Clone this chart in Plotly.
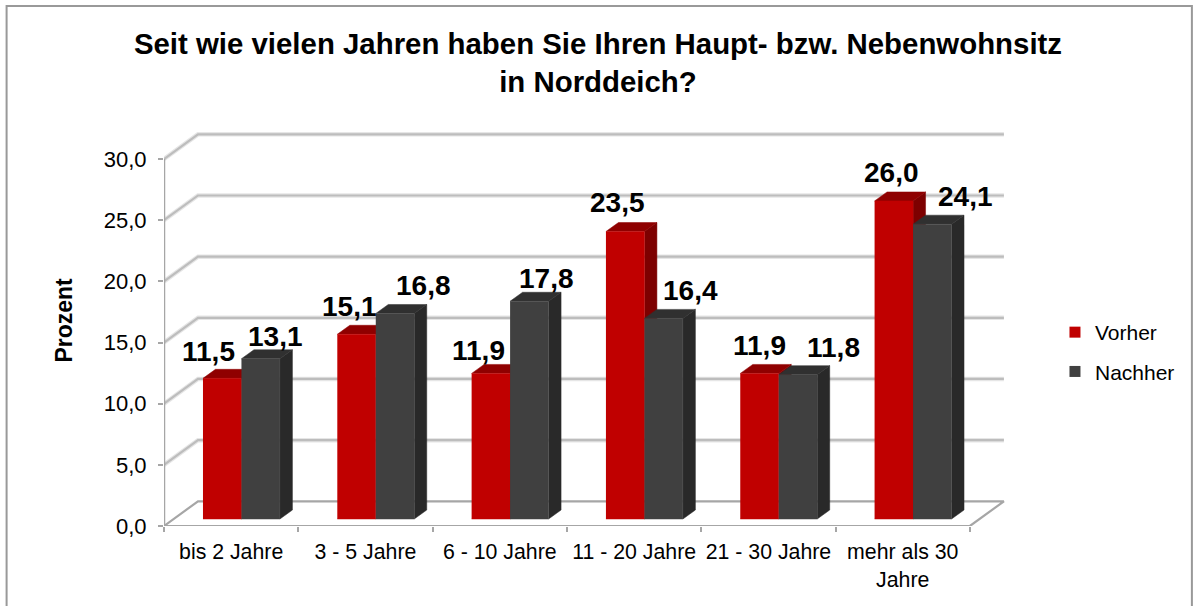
import plotly.graph_objects as go

# Data
categories = ['bis 2 Jahre', '3 - 5 Jahre', '6 - 10 Jahre', '11 - 20 Jahre', '21 - 30 Jahre', 'mehr als 30<br>Jahre']
vorher = [11.5, 15.1, 11.9, 23.5, 11.9, 26.0]
nachher = [13.1, 16.8, 17.8, 16.4, 11.8, 24.1]
y_ticks = [0, 5, 10, 15, 20, 25, 30]
y_tick_labels = ['0,0', '5,0', '10,0', '15,0', '20,0', '25,0', '30,0']

# pixel nudges for the value labels (they sit off-centre in the original)
vorher_nudge = [(-14, 0), (-7, 1), (-12, -4), (-8, 3), (0, 1), (-2, 2)]
nachher_nudge = [(15, -4), (28, 1), (17, -4), (27, 1), (36, 1), (33, 1)]

W, H = 1195, 606
LEFT, RIGHT, BOTTOM, TOP = 163.5, 1010, 526, 125
CAT_PX = 134.4
VAL_PX = 12.233

# everything below is in axis units
WALL_DX, WALL_DY = 34 / CAT_PX, 24.7 / VAL_PX      # depth of the 3D box
BAR_DX, BAR_DY = 12.5 / CAT_PX, 9 / VAL_PX         # depth of a column
BAR_BASE = 7 / VAL_PX
BAR_START = 39 / CAT_PX
BAR_W = 38.5 / CAT_PX

GRID = '#bdbdbd'
GRID_SOFT = '#e6e6e6'
AXIS = '#a6a6a6'
RED = dict(front='#c00000', top='#8f0000', side='#7d0000')
DARK = dict(front='#404040', top='#303030', side='#292929')

fig = go.Figure()


def line(xs, ys, color, width=2.2):
    fig.add_trace(go.Scatter(x=xs, y=ys, mode='lines', line=dict(color=color, width=width),
                             showlegend=False, hoverinfo='skip'))


def face(xs, ys, color):
    fig.add_trace(go.Scatter(x=xs, y=ys, mode='lines', fill='toself', fillcolor=color,
                             line=dict(color=color, width=0.5), showlegend=False, hoverinfo='skip'))


def column(x0, value, colors):
    x1 = x0 + BAR_W
    top = value + BAR_BASE
    face([x1, x1 + BAR_DX, x1 + BAR_DX, x1], [BAR_BASE, BAR_BASE + BAR_DY, top + BAR_DY, top], colors['side'])
    face([x0, x0 + BAR_DX, x1 + BAR_DX, x1], [top, top + BAR_DY, top + BAR_DY, top], colors['top'])
    face([x0, x1, x1, x0], [BAR_BASE, BAR_BASE, top, top], colors['front'])


n = len(categories)

# back wall grid and left wall diagonals
for v in y_ticks[1:]:
    line([0, WALL_DX, n + WALL_DX], [v, v + WALL_DY, v + WALL_DY], GRID_SOFT, 4.5)
    line([0, WALL_DX, n + WALL_DX], [v, v + WALL_DY, v + WALL_DY], GRID)

# floor and front axes
line([0, WALL_DX, n + WALL_DX, n, 0], [0, WALL_DY, WALL_DY, 0, 0], AXIS)
line([0, 0], [0, y_ticks[-1]], AXIS, 2.5)

# columns
for i in range(n):
    column(i + BAR_START, vorher[i], RED)
    column(i + BAR_START + BAR_W, nachher[i], DARK)

# legend entries
fig.add_trace(go.Scatter(x=[None], y=[None], mode='markers', name='Vorher', legendgroup='a',
                         marker=dict(symbol='square', size=11, color=RED['front'])))
fig.add_trace(go.Scatter(x=[None], y=[None], mode='markers', name='Nachher', legendgroup='b',
                         marker=dict(symbol='square', size=11, color=DARK['front'])))

# value labels
for i in range(n):
    for val, off, nudge in ((vorher[i], BAR_W / 2, vorher_nudge[i]), (nachher[i], BAR_W * 1.5, nachher_nudge[i])):
        fig.add_annotation(x=i + BAR_START + off, y=val + BAR_BASE + BAR_DY,
                           text='<b>' + f'{val:.1f}'.replace('.', ',') + '</b>', showarrow=False, yanchor='bottom',
                           xshift=nudge[0], yshift=nudge[1],
                           font=dict(family='Liberation Sans', size=28, color='#000000'))

# y axis title, set by hand because it sits a little above the axis middle
fig.add_annotation(xref='paper', yref='paper', x=(63 - LEFT) / (RIGHT - LEFT), y=(BOTTOM - 320) / (BOTTOM - TOP),
                   xanchor='center', yanchor='middle',
                   text='<b>Prozent</b>', textangle=-90, showarrow=False,
                   font=dict(family='Liberation Sans', size=23, color='#000000'))

# frame of the chart area
fig.add_shape(type='path', xref='paper', yref='paper', line=dict(color='#999999', width=2),
              path='M {l} {b} L {l} {t} L {r} {t} L {r} {b}'.format(
                  l=(6 - LEFT) / (RIGHT - LEFT), r=(1192 - LEFT) / (RIGHT - LEFT),
                  t=(BOTTOM - 6) / (BOTTOM - TOP), b=(BOTTOM - 610) / (BOTTOM - TOP)))

fig.update_layout(
    width=W, height=H,
    margin=dict(l=LEFT, r=W - RIGHT, t=TOP, b=H - BOTTOM, pad=0),
    paper_bgcolor='white', plot_bgcolor='white',
    font=dict(family='Liberation Sans', color='#000000'),
    title=dict(text='<b>Seit wie vielen Jahren haben Sie Ihren Haupt- bzw. Nebenwohnsitz<br>in Norddeich?</b>',
               x=598 / W, xanchor='center', y=1 - 54 / H, yanchor='top',
               font=dict(size=29.4, color='#000000')),
    legend=dict(x=(1055 - LEFT) / (RIGHT - LEFT), y=(BOTTOM - 312) / (BOTTOM - TOP), yanchor='top', xanchor='left',
                font=dict(size=21, color='#000000'), tracegroupgap=9,
                traceorder='grouped', bgcolor='rgba(0,0,0,0)'),
    showlegend=True,
)

fig.update_xaxes(range=[0, (RIGHT - LEFT) / CAT_PX], showgrid=False, zeroline=False, showline=False,
                 tickmode='array', tickvals=[i + 0.5 for i in range(n)], ticktext=categories,
                 ticks='', tickangle=0, tickfont=dict(size=21.3, color='#000000'), ticklabelstandoff=11,
                 minor=dict(ticks='outside', tickmode='array', tickvals=list(range(n + 1)),
                            ticklen=5, tickwidth=2, tickcolor=AXIS, showgrid=False))
fig.update_yaxes(range=[0, (BOTTOM - TOP) / VAL_PX], showgrid=False, zeroline=False, showline=False,
                 tickmode='array', tickvals=y_ticks, ticktext=y_tick_labels,
                 ticks='outside', ticklen=5, tickwidth=2, tickcolor=AXIS, ticklabelstandoff=7,
                 tickfont=dict(size=22, color='#000000'))

# drop the browser's default body margin so the figure starts at the window corner
fig.write_html("out.html", config=dict(displayModeBar=False), post_script="document.body.style.margin='0';")
